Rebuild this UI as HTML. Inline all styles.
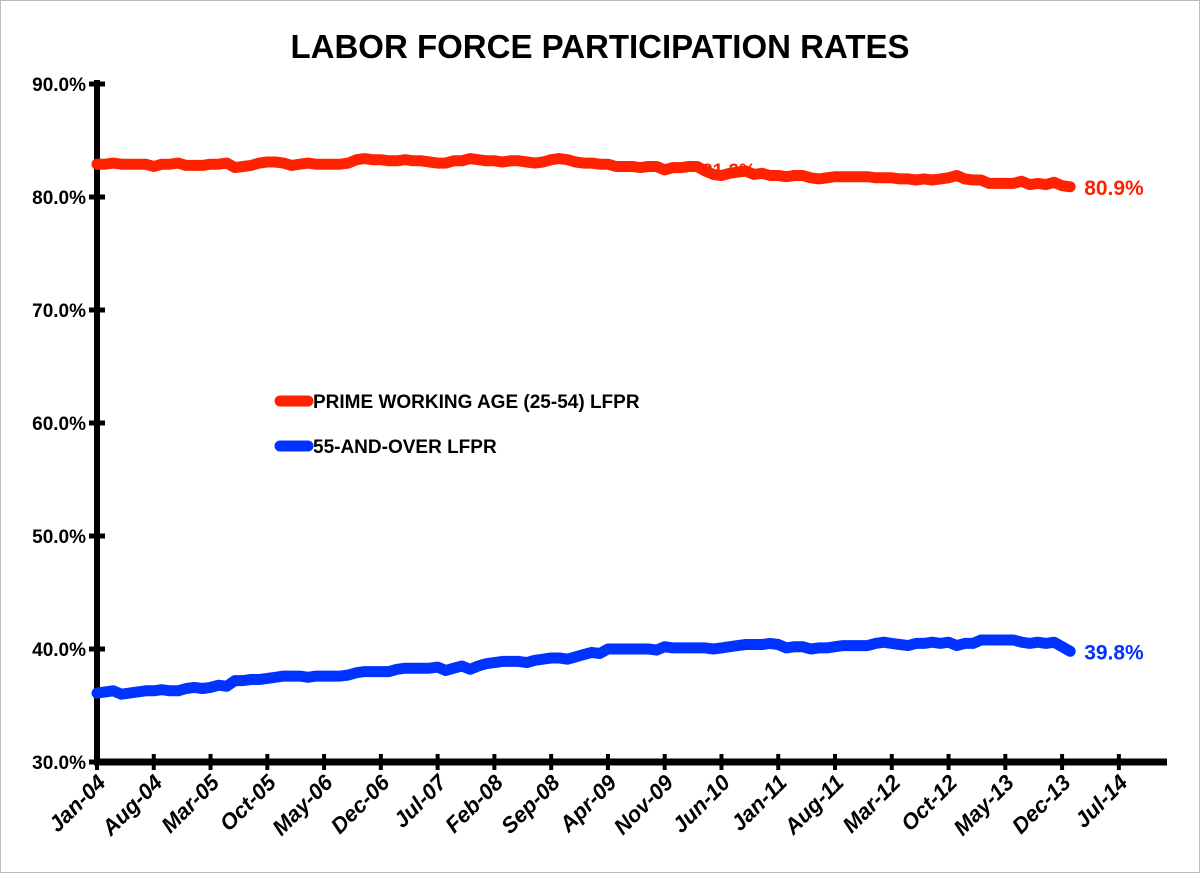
<!DOCTYPE html>
<html><head><meta charset="utf-8"><style>
body{margin:0;background:#fff;}
svg{display:block;font-family:"Liberation Sans",Arial,sans-serif;}
</style></head><body>
<svg id="chart" width="1200" height="873" viewBox="0 0 1200 873">
<rect x="0.5" y="0.5" width="1199" height="872" fill="#fff" stroke="#bbb"/>
<text x="600" y="58" text-anchor="middle" font-size="33" font-weight="bold">LABOR FORCE PARTICIPATION RATES</text>
<g id="yaxis"></g>
<g id="xaxis"></g>
<g id="series"></g>
<g>
<line x1="280" y1="401" x2="308" y2="401" stroke="#ff2200" stroke-width="11" stroke-linecap="round"/>
<text x="313" y="408" font-size="19" font-weight="bold">PRIME WORKING AGE (25-54) LFPR</text>
<line x1="280" y1="446" x2="308" y2="446" stroke="#0033ff" stroke-width="11" stroke-linecap="round"/>
<text x="313" y="453" font-size="19" font-weight="bold">55-AND-OVER LFPR</text>
</g>
</svg>
<script>
const yTicks=[30,40,50,60,70,80,90];
const xTickLabels=["Jan-04","Aug-04","Mar-05","Oct-05","May-06","Dec-06","Jul-07","Feb-08","Sep-08","Apr-09","Nov-09","Jun-10","Jan-11","Aug-11","Mar-12","Oct-12","May-13","Dec-13","Jul-14"];
const primeValues=[
82.9,82.9,83.0,82.9,82.9,82.9,82.9,82.7,82.9,82.9,83.0,82.8,
82.8,82.8,82.9,82.9,83.0,82.6,82.7,82.8,83.0,83.1,83.1,83.0,
82.8,82.9,83.0,82.9,82.9,82.9,82.9,83.0,83.3,83.4,83.3,83.3,
83.2,83.2,83.3,83.2,83.2,83.1,83.0,83.0,83.2,83.2,83.4,83.3,
83.2,83.2,83.1,83.2,83.2,83.1,83.0,83.1,83.3,83.4,83.3,83.1,
83.0,83.0,82.9,82.9,82.7,82.7,82.7,82.6,82.7,82.7,82.4,82.6,
82.6,82.7,82.7,82.3,82.0,81.9,82.1,82.2,82.3,82.0,82.1,81.9,
81.9,81.8,81.9,81.9,81.7,81.6,81.7,81.8,81.8,81.8,81.8,81.8,
81.7,81.7,81.7,81.6,81.6,81.5,81.6,81.5,81.6,81.7,81.9,81.6,
81.5,81.5,81.2,81.2,81.2,81.2,81.4,81.1,81.2,81.1,81.3,81.0,
80.9];
const olderValues=[
36.1,36.2,36.3,36.0,36.1,36.2,36.3,36.3,36.4,36.3,36.3,36.5,
36.6,36.5,36.6,36.8,36.7,37.2,37.2,37.3,37.3,37.4,37.5,37.6,
37.6,37.6,37.5,37.6,37.6,37.6,37.6,37.7,37.9,38.0,38.0,38.0,
38.0,38.2,38.3,38.3,38.3,38.3,38.4,38.1,38.3,38.5,38.2,38.5,
38.7,38.8,38.9,38.9,38.9,38.8,39.0,39.1,39.2,39.2,39.1,39.3,
39.5,39.7,39.6,40.0,40.0,40.0,40.0,40.0,40.0,39.9,40.2,40.1,
40.1,40.1,40.1,40.1,40.0,40.1,40.2,40.3,40.4,40.4,40.4,40.5,
40.4,40.1,40.2,40.2,40.0,40.1,40.1,40.2,40.3,40.3,40.3,40.3,
40.5,40.6,40.5,40.4,40.3,40.5,40.5,40.6,40.5,40.6,40.3,40.5,
40.5,40.8,40.8,40.8,40.8,40.8,40.6,40.5,40.6,40.5,40.6,40.2,
39.8];
const NS="http://www.w3.org/2000/svg";
const X0=97,PXM=8.11,Y30=762,PXP=11.3;
function xs(m){return X0+m*PXM;}
function ys(v){return Y30-(v-30)*PXP;}
function mk(tag,attrs,parent){const e=document.createElementNS(NS,tag);for(const k in attrs)e.setAttribute(k,attrs[k]);parent.appendChild(e);return e;}
const ya=document.getElementById('yaxis'),xa=document.getElementById('xaxis'),sg=document.getElementById('series');
let l=mk('line',{x1:X0,y1:ys(90)-4,x2:X0,y2:Y30+3,stroke:'#000','stroke-width':6},ya);


yTicks.forEach(v=>{
 const t=mk('line',{x1:X0-8,y1:ys(v),x2:X0+8,y2:ys(v),stroke:'#000','stroke-width':5},ya);
 
 
 const tx=mk('text',{x:86,y:ys(v)+7,'text-anchor':'end','font-size':19,'font-weight':'bold'},ya);
 tx.textContent=v.toFixed(1)+'%';
 
 
});
l=mk('line',{x1:X0-3,y1:Y30,x2:1167,y2:Y30,stroke:'#000','stroke-width':7},xa);


xTickLabels.forEach((s,i)=>{
 const x=xs(i*7);
 const t=mk('line',{x1:x,y1:Y30-8,x2:x,y2:Y30+8,stroke:'#000','stroke-width':4},xa);
 
 
 const tx=mk('text',{x:x+10,y:Y30+22,'text-anchor':'end','font-size':22,'font-weight':'bold','font-style':'italic',transform:`rotate(-45 ${x+10} ${Y30+22})`},xa);
 tx.textContent=s;
 
 
});
const stray=mk('text',{x:702,y:177,'font-size':19,'font-weight':'bold',fill:'#ff2200'},sg);
stray.textContent='81.2%';


function drawSeries(vals,color,name){
 const d=vals.map((v,i)=>(i?'L':'M')+xs(i).toFixed(1)+' '+ys(v).toFixed(1)).join(' ');
 const p=mk('path',{d:d,fill:'none',stroke:color,'stroke-width':11,'stroke-linejoin':'round','stroke-linecap':'round'},sg);
 
 
 const n=vals.length-1,last=vals[n];
 const tx=mk('text',{x:xs(n)+14,y:ys(last)+8,'font-size':21,'font-weight':'bold',fill:color},sg);
 tx.textContent=last.toFixed(1)+'%';
 
 
}
drawSeries(primeValues,'#ff2200','prime-age');
drawSeries(olderValues,'#0033ff','55-and-over');
</script>
</body></html>
